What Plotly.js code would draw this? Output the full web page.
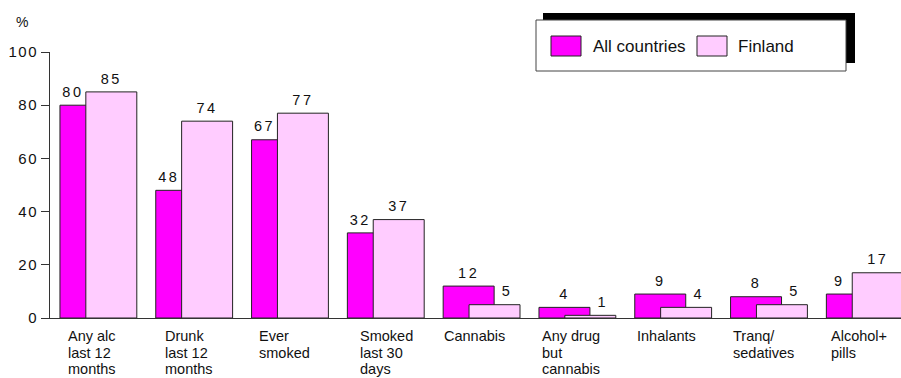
<!DOCTYPE html>
<html><head><meta charset="utf-8">
<script src="https://cdn.plot.ly/plotly-3.0.1.min.js"></script>
<style>
html,body{margin:0;padding:0;background:#fff}
#chart{width:901px;height:378px}
.textpoint text{letter-spacing:2.5px}
.ytick text{letter-spacing:1.5px}
</style></head><body><div id="chart"></div>
<script>
// ---- data ----
const categories = ["Any alc<br>last 12<br>months", "Drunk<br>last 12<br>months", "Ever<br>smoked",
  "Smoked<br>last 30<br>days", "Cannabis", "Any drug<br>but<br>cannabis", "Inhalants",
  "Tranq/<br>sedatives", "Alcohol+<br>pills"];
const allCountries = [80, 48, 67, 32, 12, 4, 9, 8, 9];
const finland = [85, 74, 77, 37, 5, 1, 4, 5, 17];
const seriesNames = ["All countries", "Finland"];
const yTickVals = [0, 20, 40, 60, 80, 100];
const yTickText = ["0", "20", "40", "60", "80", "100"];
const yUnit = "%";

// ---- style / layout ----
const FONT = "Liberation Sans, Arial, sans-serif";
const COL_ALL = "#ff00ff", COL_FIN = "#ffccff", EDGE = "#222";
const BAR_W = 0.532, FIN_OFF = 0.27;
const labelNudge = [8, 9, 7, 13, 1, 3, 2, 2, 5]; // px, left-aligned category labels
const W = 901, H = 378, ML = 50, MR = 0, MT = 52, MB = 60;
const PW = W - ML - MR, PH = H - MT - MB;
const px = x => (x - ML) / PW;
const py = y => (H - MB - y) / PH;

const idx = categories.map((_, i) => i);

// label x centred on the visible part of each bar
const allLabelX = idx.map(i => i + (finland[i] > allCountries[i] ? FIN_OFF / 2 : BAR_W / 2));
const finLabelX = idx.map(i => finland[i] < allCountries[i]
  ? i + (BAR_W + FIN_OFF + BAR_W) / 2 : i + FIN_OFF + BAR_W / 2);

const traces = [
  {type: "bar", name: seriesNames[0], x: idx, y: allCountries, width: BAR_W, offset: 0,
   marker: {color: COL_ALL, line: {color: EDGE, width: 1}}, hoverinfo: "skip"},
  {type: "bar", name: seriesNames[1], x: idx, y: finland, width: BAR_W, offset: FIN_OFF,
   marker: {color: COL_FIN, line: {color: EDGE, width: 1}}, hoverinfo: "skip"},
  {type: "scatter", mode: "markers+text", x: allLabelX.concat(finLabelX), y: allCountries.concat(finland),
   text: allCountries.concat(finland).map(String), textposition: "top center",
   marker: {size: 6, color: "rgba(0,0,0,0)", line: {width: 0}},
   textfont: {family: FONT, size: 14.5, color: "#111"}, cliponaxis: false, hoverinfo: "skip"}
];

const annotations = [];
categories.forEach((c, i) => {
  c.split("<br>").forEach((line, k) => {
    annotations.push({xref: "x", yref: "paper", x: i, y: 0, xanchor: "left", yanchor: "top",
      xshift: labelNudge[i] - 2, yshift: -8 - k * 16.7, text: line, showarrow: false, align: "left",
      font: {family: FONT, size: 14.5, color: "#111"}});
  });
});
annotations.push({xref: "paper", yref: "paper", x: px(22), y: py(22), xanchor: "center", yanchor: "middle",
  text: yUnit, showarrow: false, font: {family: FONT, size: 14, color: "#111"}});
annotations.push({xref: "paper", yref: "paper", x: px(591), y: py(46), xanchor: "left", yanchor: "middle",
  text: seriesNames[0], showarrow: false, font: {family: FONT, size: 17, color: "#111"}});
annotations.push({xref: "paper", yref: "paper", x: px(736), y: py(46), xanchor: "left", yanchor: "middle",
  text: seriesNames[1], showarrow: false, font: {family: FONT, size: 17, color: "#111"}});

const shapes = [
  {type: "rect", xref: "paper", yref: "paper", x0: px(543), x1: px(855), y0: py(13), y1: py(63),
   fillcolor: "#000", line: {width: 0}},
  {type: "rect", xref: "paper", yref: "paper", x0: px(536), x1: px(846), y0: py(20), y1: py(71),
   fillcolor: "#fff", line: {color: "#444", width: 1}},
  {type: "rect", xref: "paper", yref: "paper", x0: px(551), x1: px(581), y0: py(36), y1: py(56),
   fillcolor: COL_ALL, line: {color: EDGE, width: 1}},
  {type: "rect", xref: "paper", yref: "paper", x0: px(697), x1: px(727), y0: py(36), y1: py(56),
   fillcolor: COL_FIN, line: {color: EDGE, width: 1}}
];

const layout = {
  width: W, height: H, margin: {l: ML, r: MR, t: MT, b: MB, pad: 0},
  paper_bgcolor: "#fff", plot_bgcolor: "#fff", showlegend: false, barmode: "overlay",
  font: {family: FONT, color: "#111"},
  xaxis: {range: [-0.104, 8.779], showticklabels: false, showline: true, linecolor: "#333",
          linewidth: 1, showgrid: false, zeroline: false, ticks: "", fixedrange: true},
  yaxis: {range: [0, 100], tickvals: yTickVals, ticktext: yTickText, ticks: "outside", ticklen: 8,
          tickcolor: "#333", tickwidth: 1, showline: true, linecolor: "#333", linewidth: 1,
          showgrid: false, zeroline: false, tickfont: {family: FONT, size: 15, color: "#111"},
          fixedrange: true},
  annotations: annotations, shapes: shapes
};

Plotly.newPlot("chart", traces, layout, {displayModeBar: false, staticPlot: true});
</script></body></html>
